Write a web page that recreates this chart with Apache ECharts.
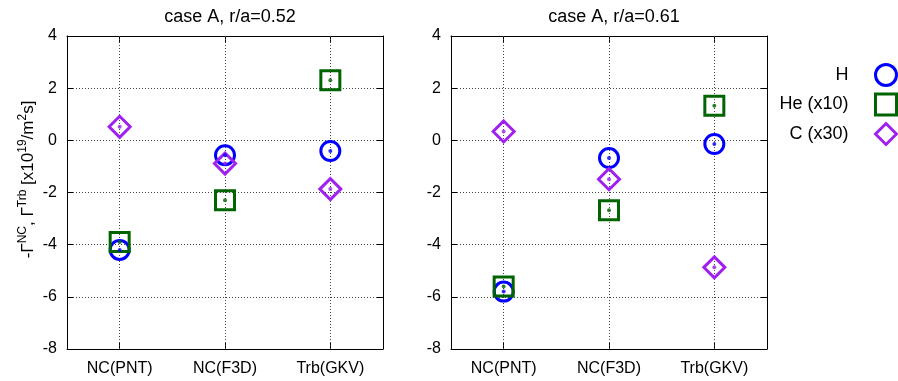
<!DOCTYPE html>
<html>
<head>
<meta charset="utf-8">
<script src="https://cdn.jsdelivr.net/npm/echarts@6/dist/echarts.min.js"></script>
<style>
html,body{margin:0;padding:0;background:#fff;}
#main{width:898px;height:381px;}
</style>
</head>
<body>
<div id="main"></div>
<script>
// ---- data ----
var categories = ['NC(PNT)', 'NC(F3D)', 'Trb(GKV)'];
var yTicks = [-8, -6, -4, -2, 0, 2, 4];
var panelTitles = ['case A, r/a=0.52', 'case A, r/a=0.61'];
var seriesNames = ['H', 'He (x10)', 'C (x30)'];
var H_052  = [-4.2, -0.57, -0.41];
var He_052 = [-3.9, -2.3, 2.3];
var C_052  = [0.52, -0.89, -1.87];
var H_061  = [-5.8, -0.68, -0.14];
var He_061 = [-5.6, -2.68, 1.33];
var C_061  = [0.34, -1.49, -4.87];

// ---- styles ----
var colors = ['#0000ff', '#006400', '#a020f0'];
var symbols = ['circle', 'rect', 'diamond'];
var sizes = [19, 19, 21];
var FONT = 'Liberation Sans, Arial, sans-serif';

var panels = [[H_052, He_052, C_052], [H_061, He_061, C_061]];
var gridLefts = [67, 451];

var grids = [], xAxes = [], yAxes = [], series = [], titles = [];
panels.forEach(function (vals, p) {
  grids.push({left: gridLefts[p], top: 36, width: 316, height: 313, show: false});
  titles.push({text: panelTitles[p], left: gridLefts[p] + 158, top: 3, textAlign: 'center',
    textStyle: {fontFamily: FONT, fontSize: 18, fontWeight: 'normal', color: '#000'}});
  // bottom x axis
  xAxes.push({gridIndex: p, type: 'category', data: categories, position: 'bottom',
    axisLine: {show: true, onZero: false, lineStyle: {color: '#000', width: 1}},
    axisTick: {show: true, inside: true, alignWithLabel: true, length: 6, lineStyle: {color: '#000'}},
    axisLabel: {fontFamily: FONT, fontSize: 16, color: '#000', margin: 12},
    splitLine: {show: false}});
  // top mirror
  xAxes.push({gridIndex: p, type: 'category', data: categories, position: 'top',
    axisLine: {show: true, onZero: false, lineStyle: {color: '#000', width: 1}},
    axisTick: {show: true, inside: true, alignWithLabel: true, length: 6, lineStyle: {color: '#000'}},
    axisLabel: {show: false}, splitLine: {show: false}});
  var yl = {gridIndex: p, type: 'value', min: -8, max: 4, interval: 2, position: 'left',
    axisLine: {show: true, onZero: false, lineStyle: {color: '#000', width: 1}},
    axisTick: {show: true, inside: true, length: 6, lineStyle: {color: '#000'}},
    axisLabel: {fontFamily: FONT, fontSize: 16, color: '#000', margin: 10},
    splitLine: {show: true, lineStyle: {color: '#444', width: 1, type: [1, 2]}}};
  if (p === 0) {
    yl.name = '-Γ{sup|NC}, Γ{sup|Trb} [x10{sup|19}/m{sup|2}s]';
    yl.nameLocation = 'middle';
    yl.nameRotate = 90;
    yl.nameGap = 28;
    yl.nameTextStyle = {fontFamily: FONT, fontSize: 17, color: '#000', lineHeight: 22, verticalAlign: 'bottom',
      padding: [0, 0, 0, 26],
      rich: {sup: {fontFamily: FONT, fontSize: 12, color: '#000', verticalAlign: 'top', lineHeight: 22}}};
  }
  yAxes.push(yl);
  yAxes.push({gridIndex: p, type: 'value', min: -8, max: 4, interval: 2, position: 'right',
    axisLine: {show: true, onZero: false, lineStyle: {color: '#000', width: 1}},
    axisTick: {show: true, inside: true, length: 6, lineStyle: {color: '#000'}},
    axisLabel: {show: false}, splitLine: {show: false}});

  vals.forEach(function (v, s) {
    var ser = {
      name: seriesNames[s], type: 'scatter', xAxisIndex: p * 2, yAxisIndex: p * 2,
      data: v, symbol: symbols[s], symbolSize: sizes[s], z: 3 + s,
      itemStyle: {color: 'rgba(0,0,0,0)', borderColor: colors[s], borderWidth: 3, opacity: 1},
      emphasis: {disabled: true}, silent: true
    };
    if (s === 0) {
      ser.markLine = {silent: true, symbol: 'none', label: {show: false}, animation: false, z: 1,
        lineStyle: {color: '#444', width: 1, type: [1, 2]},
        data: categories.map(function (c) { return {xAxis: c}; })};
    }
    series.push(ser);
    series.push({
      name: seriesNames[s] + ' dot', type: 'scatter', xAxisIndex: p * 2, yAxisIndex: p * 2,
      data: v, symbol: 'circle', symbolSize: 4, z: 10,
      itemStyle: {color: colors[s]}, emphasis: {disabled: true}, silent: true
    });
  });
});

var chart = echarts.init(document.getElementById('main'), null, {renderer: 'canvas'});
chart.setOption({
  animation: false,
  backgroundColor: '#fff',
  title: titles,
  grid: grids,
  xAxis: xAxes,
  yAxis: yAxes,
  legend: {
    orient: 'vertical', right: 0, top: 63, align: 'right', padding: 0,
    itemWidth: 21, itemHeight: 21, itemGap: 5.5,
    data: seriesNames.map(function (n, i) {
      return {name: n, icon: symbols[i],
        itemStyle: {color: 'rgba(0,0,0,0)', borderColor: colors[i], borderWidth: 3}};
    }),
    textStyle: {fontFamily: FONT, fontSize: 18, color: '#000', padding: [0, 22, 0, 0]},
    selectedMode: false
  },
  series: series
});
</script>
</body>
</html>
